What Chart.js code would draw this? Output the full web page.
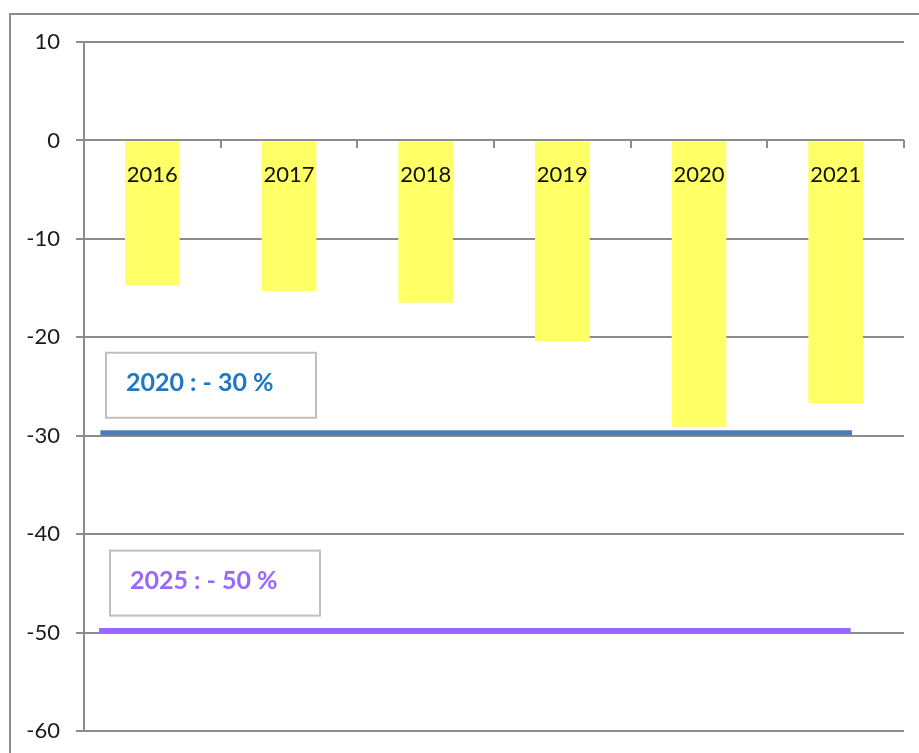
<!DOCTYPE html>
<html>
<head>
<meta charset="utf-8">
<script src="https://cdn.jsdelivr.net/npm/chart.js@4"></script>
<style>
  html, body { margin: 0; padding: 0; background: #fff; }
  #wrap { width: 919px; height: 753px; position: relative; }
</style>
</head>
<body>
<div id="wrap"><canvas id="emChart"></canvas></div>
<script>
// values
var years = ['2016', '2017', '2018', '2019', '2020', '2021'];
var reduction = [-14.7, -15.3, -16.5, -20.4, -29.1, -26.7];
var yTicks = [10, 0, -10, -20, -30, -40, -50, -60];

// target lines (value, span in category units)
var targetNames = ['2020 : - 30 %', '2025 : - 50 %'];
var targetValues = [-29.7, -49.8];
var targetStart = [-0.38, -0.39];
var targetEnd = [5.12, 5.11];

var gridGray = '#8c8c8c';
var lineColors = ['#4a7ebb', '#9966ff'];
var textColors = ['#1f78c4', '#9966ff'];

// outer frame of the original picture
var framePlugin = {
    id: 'frame',
    beforeDraw: function(chart){
        var ctx = chart.ctx;
        ctx.save();
        ctx.strokeStyle = gridGray;
        ctx.lineWidth = 2;
        ctx.beginPath();
        ctx.moveTo(10, 753);
        ctx.lineTo(10, 14);
        ctx.lineTo(919, 14);
        ctx.stroke();
        ctx.restore();
    }
};

// year labels inside the bars + text boxes above the target lines
var labelPlugin = {
    id: 'labels',
    afterDatasetsDraw: function(chart){
        var ctx = chart.ctx;
        var x = chart.scales.x;
        var y = chart.scales.y;
        ctx.save();
        ctx.font = '22px Lato, "Open Sans", sans-serif';
        ctx.fillStyle = '#111';
        ctx.textAlign = 'center';
        ctx.textBaseline = 'middle';
        years.forEach(function(yr, i){
            ctx.fillText(yr, x.getPixelForValue(i), y.getPixelForValue(0) + 34);
        });

        targetNames.forEach(function(name, i){
            var ly = y.getPixelForValue(targetValues[i]);
            var left = chart.chartArea.left + 22 + i * 4;
            var top = ly - 15 - 65;
            ctx.fillStyle = '#fff';
            ctx.fillRect(left, top, 210, 65);
            ctx.strokeStyle = '#bfbfbf';
            ctx.lineWidth = 2;
            ctx.strokeRect(left, top, 210, 65);
            ctx.font = 'bold 25px Lato, "Open Sans", sans-serif';
            ctx.fillStyle = textColors[i];
            ctx.textAlign = 'left';
            ctx.fillText(name, left + 20, top + 30);
        });
        ctx.restore();
    }
};

var lineSets = targetValues.map(function(v, i){
    return {
        type: 'line',
        label: targetNames[i],
        xAxisID: 'xl',
        data: [{x: targetStart[i], y: v}, {x: targetEnd[i], y: v}],
        borderColor: lineColors[i],
        borderWidth: 5,
        pointRadius: 0,
        fill: false
    };
});

new Chart(document.getElementById('emChart'), {
    type: 'bar',
    data: {
        labels: years,
        datasets: [{
            label: 'Reduction',
            data: reduction,
            backgroundColor: '#ffff66',
            borderWidth: 0,
            grouped: false,
            barPercentage: 0.4,
            categoryPercentage: 1.0
        }].concat(lineSets)
    },
    options: {
        responsive: true,
        maintainAspectRatio: false,
        animation: false,
        layout: { padding: { left: 0, top: 42, right: 15, bottom: 22 } },
        plugins: {
            legend: { display: false },
            tooltip: { enabled: false }
        },
        scales: {
            x: {
                position: { y: 0 },
                offset: true,
                afterFit: function(scale){ scale.height = 0; },
                ticks: { display: false },
                border: { display: false },
                grid: {
                    offset: true,
                    drawOnChartArea: false,
                    color: gridGray,
                    lineWidth: 2,
                    tickLength: 8
                }
            },
            xl: {
                type: 'linear',
                display: false,
                offset: false,
                min: -0.5,
                max: 5.5
            },
            y: {
                min: -60,
                max: 10,
                afterFit: function(scale){
                    scale.width = 84;
                    scale.paddingTop = 0;
                    scale.paddingBottom = 0;
                },
                afterBuildTicks: function(scale){
                    scale.ticks = yTicks.map(function(v){ return {value: v}; });
                },
                ticks: {
                    padding: 16,
                    color: '#1a1a1a',
                    font: { family: 'Lato, "Open Sans", sans-serif', size: 22 }
                },
                border: { display: true, color: gridGray, width: 2 },
                grid: { color: gridGray, lineWidth: 2, tickLength: 8 }
            }
        }
    },
    plugins: [framePlugin, labelPlugin]
});
</script>
</body>
</html>
